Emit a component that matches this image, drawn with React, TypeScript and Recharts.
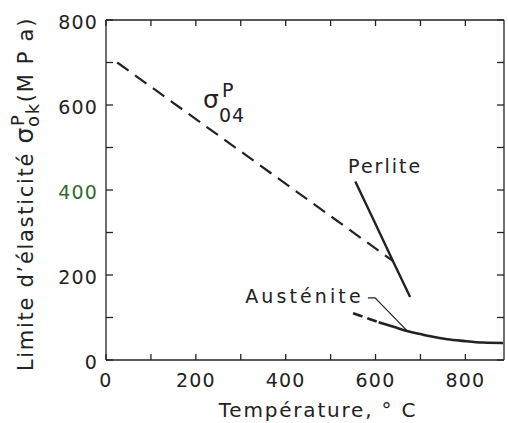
import { LineChart, Line, XAxis, YAxis, ReferenceDot } from "recharts";

// values (temperature in °C, stress in MPa)
const sigmaTemp = [25, 640];
const sigmaVal = [700, 232];
const perliteTemp = [555, 600, 640, 677];
const perliteVal = [420, 320, 230, 148];
const austDashTemp = [550, 580, 607];
const austDashVal = [110, 99, 89];
const austTemp = [607, 640, 670, 700, 722, 760, 795, 840, 884];
const austVal = [89, 78, 68, 61, 56, 49, 45, 41, 40];
const leaderTemp = [583, 599, 670];
const leaderVal = [146, 146, 69];

const tempTicks = [0, 100, 200, 300, 400, 500, 600, 700, 800];
const stressTicks = [0, 100, 200, 300, 400, 500, 600, 700, 800];
const labelledTicks = [0, 200, 400, 600, 800];

const ink = "#222";
const font = "DejaVu Sans";

const toPoints = (t: number[], v: number[]) => t.map((x, i) => ({ t: x, v: v[i] }));

const BottomTick = ({ x, y, payload }: any) => (
  <g>
    <line x1={x} x2={x} y1={y} y2={y - 6} stroke={ink} strokeWidth={1.3} />
    {labelledTicks.includes(payload.value) && (
      <text x={x} y={y + 27} textAnchor="middle" fontSize={19} letterSpacing={1.2} fill={ink} fontFamily={font}>
        {payload.value}
      </text>
    )}
  </g>
);

const TopTick = ({ x, y }: any) => <line x1={x} x2={x} y1={y} y2={y + 6} stroke={ink} strokeWidth={1.3} />;

const LeftTick = ({ x, y, payload }: any) => (
  <g>
    <line x1={x} x2={x + 7} y1={y} y2={y} stroke={ink} strokeWidth={1.3} />
    {labelledTicks.includes(payload.value) && (
      <text
        x={x - 8}
        y={y + 9}
        textAnchor="end"
        fontSize={19}
        letterSpacing={1.2}
        fill={payload.value === 400 ? "#2f6b2f" : ink}
        fontFamily={font}
      >
        {payload.value}
      </text>
    )}
  </g>
);

const RightTick = ({ x, y }: any) => <line x1={x} x2={x - 7} y1={y} y2={y} stroke={ink} strokeWidth={1.3} />;

const YTitle = ({ viewBox }: any) => {
  const cx = 33;
  const cy = viewBox.y + viewBox.height / 2 + 4;
  return (
    <text
      x={cx}
      y={cy}
      transform={`rotate(-90, ${cx}, ${cy})`}
      textAnchor="middle"
      fontSize={21}
      letterSpacing={1.7}
      fill={ink}
      fontFamily={font}
    >
      <tspan>Limite d’élasticité </tspan>
      <tspan fontSize={25}>σ</tspan>
      <tspan dy={-9} fontSize={18}>P</tspan>
      <tspan dx={-13} dy={15} fontSize={18}>ok</tspan>
      <tspan dy={-6}>(M P a)</tspan>
    </text>
  );
};

const XTitle = ({ viewBox }: any) => (
  <text
    x={viewBox.x + viewBox.width / 2 + 13}
    y={viewBox.y + 57}
    textAnchor="middle"
    fontSize={20}
    letterSpacing={1.8}
    fill={ink}
    fontFamily={font}
  >
    Température, ° C
  </text>
);

const SigmaLabel = ({ viewBox }: any) => (
  <g fill={ink} fontFamily={font}>
    <text x={viewBox.x} y={viewBox.y} fontSize={25}>σ</text>
    <text x={viewBox.x + 19} y={viewBox.y - 11} fontSize={19}>P</text>
    <text x={viewBox.x + 16} y={viewBox.y + 14} fontSize={19} letterSpacing={1}>04</text>
  </g>
);

const WordLabel = (word: string, spacing: number) => ({ viewBox }: any) => (
  <text x={viewBox.x} y={viewBox.y} fontSize={19} letterSpacing={spacing} fill={ink} fontFamily={font}>
    {word}
  </text>
);

export default function App() {
  return (
    <div style={{ position: "absolute", left: 0, top: 0, background: "#fff" }}>
      <LineChart width={508} height={423} margin={{ top: 19, right: 3, bottom: 0, left: 0 }}>
        <XAxis
          xAxisId="b"
          type="number"
          dataKey="t"
          domain={[0, 886]}
          ticks={tempTicks}
          interval={0}
          tick={<BottomTick />}
          tickSize={0}
          tickMargin={0}
          tickLine={false}
          height={63}
          stroke={ink}
          strokeWidth={1.3}
          allowDataOverflow
          label={<XTitle />}
        />
        <XAxis
          xAxisId="t"
          orientation="top"
          type="number"
          dataKey="t"
          domain={[0, 886]}
          ticks={tempTicks}
          interval={0}
          tick={<TopTick />}
          tickSize={0}
          tickMargin={0}
          tickLine={false}
          height={1}
          stroke={ink}
          strokeWidth={1.3}
          allowDataOverflow
        />
        <YAxis
          yAxisId="l"
          type="number"
          domain={[0, 800]}
          ticks={stressTicks}
          interval={0}
          tick={<LeftTick />}
          tickSize={0}
          tickMargin={0}
          tickLine={false}
          width={106}
          stroke={ink}
          strokeWidth={1.3}
          label={<YTitle />}
        />
        <YAxis
          yAxisId="r"
          orientation="right"
          type="number"
          domain={[0, 800]}
          ticks={stressTicks}
          interval={0}
          tick={<RightTick />}
          tickSize={0}
          tickMargin={0}
          tickLine={false}
          width={1}
          stroke={ink}
          strokeWidth={1.3}
        />
        <Line
          xAxisId="b"
          yAxisId="l"
          data={toPoints(sigmaTemp, sigmaVal)}
          dataKey="v"
          stroke={ink}
          strokeWidth={2.2}
          strokeDasharray="14 8"
          dot={false}
          isAnimationActive={false}
        />
        <Line
          xAxisId="b"
          yAxisId="l"
          data={toPoints(perliteTemp, perliteVal)}
          dataKey="v"
          stroke={ink}
          strokeWidth={2.4}
          dot={false}
          isAnimationActive={false}
        />
        <Line
          xAxisId="b"
          yAxisId="l"
          data={toPoints(austDashTemp, austDashVal)}
          dataKey="v"
          stroke={ink}
          strokeWidth={2.6}
          strokeDasharray="10 5"
          dot={false}
          isAnimationActive={false}
        />
        <Line
          xAxisId="b"
          yAxisId="l"
          type="monotone"
          data={toPoints(austTemp, austVal)}
          dataKey="v"
          stroke={ink}
          strokeWidth={2.6}
          dot={false}
          isAnimationActive={false}
        />
        <Line
          xAxisId="b"
          yAxisId="l"
          data={toPoints(leaderTemp, leaderVal)}
          dataKey="v"
          stroke={ink}
          strokeWidth={1.2}
          dot={false}
          isAnimationActive={false}
        />
        {/* dummy series so the top/right frame axes get drawn */}
        <Line
          xAxisId="t"
          yAxisId="r"
          data={toPoints(sigmaTemp, sigmaVal)}
          dataKey="v"
          stroke="none"
          dot={false}
          activeDot={false}
          isAnimationActive={false}
        />
        <ReferenceDot xAxisId="b" yAxisId="l" x={216} y={593} r={0} label={<SigmaLabel />} />
        <ReferenceDot xAxisId="b" yAxisId="l" x={539} y={440} r={0} label={WordLabel("Perlite", 2)} />
        <ReferenceDot xAxisId="b" yAxisId="l" x={310} y={134} r={0} label={WordLabel("Austénite", 3.1)} />
      </LineChart>
    </div>
  );
}
